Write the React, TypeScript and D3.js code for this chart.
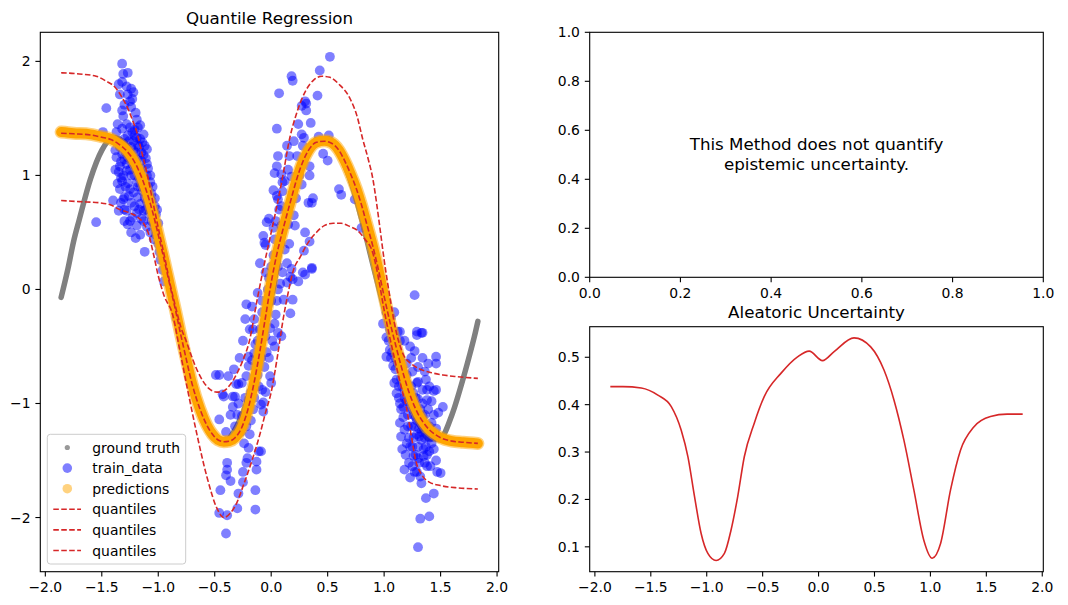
import React from 'react';
import * as d3 from 'd3';

type Pt = [number, number];

// ground truth curve (grey dots in the original, dense enough to read as a line)
const groundTruth: Pt[] = [
  [-1.86, -0.07], [-1.8, 0.18], [-1.75, 0.42], [-1.7, 0.61], [-1.6, 0.97], [-1.5, 1.22],
  [-1.4, 1.33], [-1.3, 1.29], [-1.2, 1.1], [-1.1, 0.8], [-1.0, 0.43], [-0.9, 0.02],
  [-0.8, -0.42], [-0.7, -0.84], [-0.6, -1.15], [-0.5, -1.31], [-0.4, -1.32], [-0.3, -1.19],
  [-0.2, -0.94], [-0.1, -0.55], [0.0, -0.08], [0.1, 0.45], [0.2, 0.88], [0.3, 1.17],
  [0.4, 1.31], [0.5, 1.32], [0.6, 1.2], [0.7, 0.96], [0.8, 0.62], [0.9, 0.22],
  [1.0, -0.17], [1.1, -0.56], [1.2, -0.9], [1.3, -1.16], [1.4, -1.31], [1.5, -1.3],
  [1.6, -1.1], [1.7, -0.78], [1.75, -0.6], [1.8, -0.41], [1.83, -0.28],
];

const trainData: Pt[] = [
  // left cluster
  [-1.32, 1.98], [-1.31, 1.89], [-1.27, 1.9], [-1.35, 1.8], [-1.32, 1.82], [-1.24, 1.76], [-1.27, 1.71],
  [-1.22, 1.73], [-1.34, 1.71], [-1.25, 1.65], [-1.46, 1.59], [-1.24, 1.6], [-1.32, 1.57], [-1.31, 1.52],
  [-1.19, 1.49], [-1.28, 1.45], [-1.16, 1.44], [-1.32, 1.41], [-1.25, 1.42], [-1.37, 1.38], [-1.21, 1.35],
  [-1.13, 1.36], [-1.49, 1.38], [-1.3, 1.32], [-1.16, 1.32], [-1.12, 1.26], [-1.1, 1.23], [-1.38, 1.22],
  [-1.32, 1.19], [-1.22, 1.22], [-1.37, 1.16], [-1.15, 1.13], [-1.1, 1.1], [-1.34, 1.08], [-1.28, 1.04],
  [-1.16, 1.03], [-1.35, 1.03], [-1.31, 1.0], [-1.24, 1.0], [-1.1, 1.0], [-1.32, 0.95], [-1.19, 0.94],
  [-1.07, 0.94], [-1.25, 0.88], [-1.34, 0.88], [-1.12, 0.88], [-1.06, 0.84], [-1.3, 0.81], [-1.18, 0.81],
  [-1.4, 0.78], [-1.31, 0.79], [-1.24, 0.76], [-1.16, 0.75], [-1.07, 0.75], [-1.03, 0.73], [-1.35, 0.69],
  [-1.28, 0.69], [-1.19, 0.67], [-1.13, 0.69], [-1.55, 0.59], [-1.3, 0.6], [-1.15, 0.62], [-1.19, 0.56],
  [-1.24, 0.5], [-1.16, 0.48], [-1.04, 0.64], [-1.02, 0.66], [-1.28, 1.1], [-1.25, 1.15], [-1.2, 1.2],
  [-1.15, 1.06], [-1.12, 0.96], [-1.09, 0.9], [-1.08, 0.82], [-1.05, 0.7], [-1.18, 0.9], [-1.22, 0.85],
  [-1.27, 0.93], [-1.3, 1.14], [-1.26, 1.3], [-1.22, 1.3], [-1.18, 1.27], [-1.15, 1.2], [-1.25, 1.05],
  [-1.2, 1.06], [-1.14, 0.86], [-1.08, 0.66], [-1.04, 0.58], [-1.12, 0.33], [-1.04, 0.44], [-1.0, 0.4],
  [-0.99, 0.33], [-0.98, 0.26], [-1.02, 0.52], [-0.96, 0.17], [-0.95, 0.07], [-1.21, 1.4], [-1.29, 1.25],
  [-1.35, 1.3], [-1.33, 1.12], [-1.1, 0.77], [-1.23, 0.63], [-1.27, 0.57], [-0.84, -0.25],
  [-1.34, 1.25], [-1.31, 1.28], [-1.27, 1.35], [-1.23, 1.38], [-1.19, 1.33], [-1.17, 1.25], [-1.13, 1.18],
  [-1.11, 1.15], [-1.09, 1.06], [-1.07, 1.0], [-1.05, 0.9], [-1.03, 0.8], [-1.01, 0.7], [-1.06, 0.78],
  [-1.09, 0.72], [-1.12, 0.8], [-1.14, 0.92], [-1.17, 0.98], [-1.21, 1.0], [-1.23, 1.1], [-1.27, 1.16],
  [-1.29, 1.2], [-1.33, 0.98], [-1.29, 0.9], [-1.26, 0.82], [-1.21, 0.73], [-1.17, 0.7], [-1.13, 0.6],
  [-1.1, 0.55], [-1.07, 0.5], [-1.33, 0.76], [-1.36, 0.93], [-1.38, 1.05], [-1.36, 1.45], [-1.3, 1.62],
  [-1.28, 1.78], [-1.23, 1.67], [-1.2, 1.55], [-1.18, 1.42], [-1.14, 1.29], [-1.24, 1.25], [-1.19, 1.14],
  [-1.16, 0.9], [-1.11, 0.7], [-1.02, 0.48], [-1.0, 0.58], [-1.06, 0.6], [-1.3, 0.7], [-1.25, 0.6],
  [-1.2, 0.45],
  // middle cluster, lower part
  [-0.46, -1.14], [-0.4, -1.25], [-0.26, -1.11], [-0.22, -1.2], [-0.19, -1.27], [-0.2, -1.39], [-0.21, -1.48],
  [-0.22, -1.52], [-0.25, -1.6], [-0.25, -1.69], [-0.29, -1.79], [-0.39, -1.52], [-0.39, -1.58], [-0.4, -1.63],
  [-0.36, -1.68], [-0.45, -1.76], [-0.46, -1.96], [-0.39, -1.98], [-0.4, -2.14], [-0.3, -1.92], [-0.14, -1.76],
  [-0.14, -1.93], [-0.13, -1.58], [-0.11, -1.42], [-0.09, -1.42], [-0.13, -1.51], [-0.07, -1.07], [-0.16, -1.05],
  // middle cluster, centre
  [-0.46, -0.75], [-0.49, -0.75], [-0.38, -0.76], [-0.22, -0.13], [-0.17, -0.15], [-0.12, -0.03], [-0.23, -0.26],
  [-0.15, -0.26], [-0.1, -0.35], [-0.05, -0.41], [-0.01, -0.34], [0.06, -0.38], [0.09, -0.41], [0.05, -0.1],
  [0.11, -0.09], [0.17, -0.21], [0.14, 0.06], [0.19, -0.09], [0.19, 0.09], [0.24, 0.07], [0.3, 0.13],
  [0.36, 0.18], [0.17, 0.11], [-0.17, -0.62], [-0.15, -0.56], [-0.2, -0.67], [-0.13, -0.7], [-0.22, -0.76],
  [-0.26, -0.82], [-0.31, -0.83], [-0.34, -0.94], [-0.29, -1.0], [-0.34, -1.03], [-0.43, -0.92], [-0.01, -0.76],
  [0.0, -0.82], [-0.09, -1.01], [-0.07, -0.99], [-0.42, -0.94], [-0.32, -0.94], [-0.29, -0.83], [-0.2, -0.97],
  [-0.2, -0.59], [-0.12, -0.45], [-0.08, -0.2], [-0.03, 0.0], [0.0, -0.1], [-0.05, 0.15], [0.02, 0.3],
  [0.06, 0.2], [0.08, 0.05], [-0.09, -0.6], [-0.16, -0.35], [-0.11, -0.85], [-0.04, -0.55], [0.03, -0.5],
  [-0.06, -0.68], [0.04, -0.22], [-0.18, -0.9],
  [-0.3, -1.1], [-0.27, -1.25], [-0.24, -1.35], [-0.18, -1.15], [-0.15, -0.95], [-0.12, -0.75], [-0.08, -0.88],
  [-0.05, -0.9], [-0.02, -0.6], [0.01, -0.45], [0.03, -0.3], [-0.14, -0.48], [-0.19, -0.35], [-0.25, -0.45],
  [-0.28, -0.6], [-0.33, -0.7], [-0.36, -1.1], [-0.32, -1.2], [-0.23, -0.95], [0.06, 0.0], [0.1, 0.15],
  [0.12, 0.35], [0.16, 0.4], [0.2, 0.65], [0.22, 0.8], [0.25, 1.0], [0.12, 0.95], [0.15, 1.05],
  [0.2, 1.3], [0.24, 1.45], [0.0, 0.2], [-0.02, 0.1], [0.04, 0.6], [0.08, 0.4], [-0.08, -0.1],
  // middle cluster, upper part
  [0.52, 2.04], [0.43, 1.92], [0.18, 1.87], [0.19, 1.83], [0.07, 1.72], [0.41, 1.7], [0.27, 1.61],
  [0.31, 1.63], [0.31, 1.57], [0.3, 1.65], [0.35, 1.46], [0.05, 1.41], [0.27, 1.36], [0.29, 1.33],
  [0.14, 1.26], [0.28, 1.26], [0.42, 1.34], [0.51, 1.35], [0.03, 1.02], [0.09, 1.01], [0.16, 1.17],
  [0.23, 1.17], [0.18, 0.99], [0.27, 0.92], [0.34, 1.0], [0.34, 1.08], [0.33, 0.76], [0.36, 0.76],
  [0.37, 0.8], [0.46, 1.19], [0.5, 1.13], [0.6, 0.88], [0.62, 0.83], [-0.04, 0.59], [0.02, 0.54],
  [0.21, 0.56], [0.3, 0.5], [0.34, 0.42], [0.29, 0.34], [0.03, 0.44], [0.09, 0.56], [0.15, 0.57],
  [-0.1, 0.23], [-0.06, 0.41], [-0.05, 0.39], [0.14, 0.23], [0.18, 0.18], [0.36, 0.19], [0.28, 0.15],
  [0.06, 0.79], [0.05, 0.82], [0.02, 0.87], [0.07, 0.7], [0.09, 0.73], [0.1, 0.86], [0.1, 0.94],
  [0.05, 1.08], [0.06, 1.17], [-0.02, 0.62], [-0.07, 0.47], [0.74, 0.79], [0.8, 0.54],
  // right cluster
  [1.27, -0.05], [1.09, -0.2], [1.12, -0.37], [1.29, -0.4], [1.33, -0.38], [1.23, -0.5], [1.34, -0.6],
  [1.46, -0.59], [1.39, -0.65], [1.46, -0.65], [1.27, -0.54], [1.14, -0.45], [1.05, -0.53], [1.02, -0.59],
  [1.08, -0.67], [1.14, -0.61], [1.11, -0.79], [1.2, -0.82], [1.3, -0.81], [1.37, -0.79], [1.34, -0.88],
  [1.44, -0.89], [1.52, -1.03], [1.26, -0.91], [1.3, -0.96], [1.34, -1.0], [1.39, -1.05], [1.34, -1.11],
  [1.32, -1.17], [1.42, -1.17], [1.17, -1.03], [1.14, -1.17], [1.18, -1.23], [1.29, -1.27], [1.15, -1.29],
  [1.2, -1.35], [1.3, -1.38], [1.37, -1.38], [1.18, -1.58], [1.25, -1.55], [1.31, -1.52], [1.26, -1.46],
  [1.38, -1.55], [1.29, -1.6], [1.32, -1.64], [1.23, -1.65], [1.35, -1.46], [1.47, -1.6], [1.5, -1.61],
  [1.44, -1.79], [1.37, -1.83], [1.32, -2.01], [1.4, -1.99], [1.3, -2.26], [1.4, -1.42], [1.31, -1.29],
  [1.14, -1.0], [1.11, -0.91], [1.46, -0.88], [1.38, -0.97], [1.29, -0.82], [1.29, -0.37], [1.34, -0.38],
  [1.14, -0.37], [1.46, -1.22], [1.43, -1.26], [1.05, -0.35], [1.08, -0.45], [1.12, -0.55], [1.16, -0.7],
  [1.2, -0.75], [1.22, -0.95], [1.25, -1.05], [1.28, -1.12], [1.24, -1.2], [1.21, -1.1], [1.18, -0.95],
  [1.16, -0.85], [1.27, -1.2], [1.33, -1.25], [1.36, -1.3], [1.22, -1.3], [1.25, -1.38], [1.19, -1.45],
  [1.28, -1.45], [1.35, -1.2], [1.4, -1.3], [1.1, -0.7], [1.13, -0.85], [1.02, -0.42], [0.99, -0.3],
  [1.06, -0.6],
  [1.02, -0.2], [1.04, -0.45], [1.07, -0.55], [1.1, -0.6], [1.12, -0.65], [1.15, -0.78], [1.18, -0.88],
  [1.2, -0.98], [1.23, -1.02], [1.26, -1.1], [1.29, -1.15], [1.31, -1.22], [1.33, -1.32], [1.35, -1.4],
  [1.38, -1.45], [1.36, -1.52], [1.3, -1.48], [1.26, -1.3], [1.23, -1.38], [1.21, -1.2], [1.17, -1.12],
  [1.15, -1.05], [1.13, -0.95], [1.24, -0.85], [1.28, -0.95], [1.32, -1.05], [1.36, -1.1], [1.4, -1.2],
  [1.42, -1.35], [1.44, -1.4], [1.46, -1.5], [1.48, -1.3], [1.41, -1.55], [1.33, -1.7], [1.27, -1.6],
  [1.22, -1.52], [1.16, -1.4], [1.2, -0.65], [1.25, -0.72], [1.3, -0.68], [1.36, -0.72], [1.4, -0.85],
  [1.42, -0.98], [1.38, -0.88], [1.44, -1.1], [1.48, -1.08], [1.09, -0.82], [1.06, -0.25], [1.18, -0.45],
  [1.24, -0.6],
];

const predictions: Pt[] = [
  [-1.86, 1.38], [-1.75, 1.37], [-1.6, 1.36], [-1.5, 1.34], [-1.42, 1.32], [-1.35, 1.28], [-1.28, 1.22],
  [-1.2, 1.1], [-1.15, 0.99], [-1.1, 0.85], [-1.05, 0.68], [-1.0, 0.48], [-0.95, 0.27], [-0.9, 0.05],
  [-0.85, -0.17], [-0.8, -0.4], [-0.75, -0.62], [-0.7, -0.83], [-0.63, -1.05], [-0.57, -1.19], [-0.52, -1.27],
  [-0.47, -1.32], [-0.42, -1.335], [-0.37, -1.33], [-0.32, -1.3], [-0.27, -1.23], [-0.2, -1.03], [-0.15, -0.81],
  [-0.1, -0.54], [-0.05, -0.24], [0.0, 0.06], [0.05, 0.31], [0.1, 0.51], [0.165, 0.75], [0.23, 0.98],
  [0.28, 1.12], [0.33, 1.22], [0.4, 1.29], [0.47, 1.305], [0.53, 1.29], [0.6, 1.22], [0.65, 1.13],
  [0.7, 1.02], [0.755, 0.88], [0.8, 0.74], [0.85, 0.56], [0.9, 0.38], [0.95, 0.17], [1.0, -0.06],
  [1.05, -0.28], [1.1, -0.48], [1.15, -0.67], [1.2, -0.84], [1.25, -0.98], [1.3, -1.09], [1.35, -1.17],
  [1.4, -1.23], [1.45, -1.27], [1.5, -1.3], [1.6, -1.33], [1.7, -1.34], [1.83, -1.35],
];

const quantileHigh: Pt[] = [
  [-1.86, 1.9], [-1.7, 1.89], [-1.55, 1.87], [-1.45, 1.82], [-1.4, 1.79], [-1.33, 1.7], [-1.28, 1.61],
  [-1.23, 1.49], [-1.19, 1.38], [-1.14, 1.18], [-1.1, 1.02], [-1.04, 0.73], [-0.985, 0.47], [-0.93, 0.22],
  [-0.9, 0.07], [-0.85, -0.14], [-0.8, -0.33], [-0.75, -0.46], [-0.7, -0.6], [-0.65, -0.72], [-0.6, -0.81],
  [-0.55, -0.87], [-0.48, -0.9], [-0.42, -0.89], [-0.36, -0.83], [-0.3, -0.73], [-0.25, -0.62], [-0.19, -0.44],
  [-0.13, -0.12], [-0.07, 0.18], [0.0, 0.5], [0.05, 0.73], [0.1, 0.98], [0.165, 1.33], [0.23, 1.56],
  [0.31, 1.75], [0.38, 1.84], [0.45, 1.87], [0.52, 1.86], [0.6, 1.8], [0.7, 1.67], [0.76, 1.52],
  [0.81, 1.32], [0.86, 1.14], [0.9, 0.97], [0.93, 0.78], [0.96, 0.56], [1.0, 0.26], [1.05, -0.06],
  [1.1, -0.34], [1.17, -0.57], [1.25, -0.66], [1.32, -0.7], [1.42, -0.73], [1.52, -0.75], [1.65, -0.765],
  [1.83, -0.78],
];

const quantileMid: Pt[] = [
  [-1.86, 1.37], [-1.75, 1.365], [-1.6, 1.355], [-1.5, 1.335], [-1.42, 1.315], [-1.35, 1.275], [-1.28, 1.215],
  [-1.2, 1.1], [-1.15, 0.99], [-1.1, 0.85], [-1.05, 0.68], [-1.0, 0.48], [-0.95, 0.27], [-0.9, 0.05],
  [-0.85, -0.17], [-0.8, -0.4], [-0.75, -0.62], [-0.7, -0.83], [-0.63, -1.05], [-0.57, -1.19], [-0.52, -1.27],
  [-0.47, -1.32], [-0.42, -1.335], [-0.37, -1.33], [-0.32, -1.3], [-0.27, -1.23], [-0.2, -1.03], [-0.15, -0.81],
  [-0.1, -0.54], [-0.05, -0.24], [0.0, 0.06], [0.05, 0.31], [0.1, 0.51], [0.165, 0.75], [0.23, 0.98],
  [0.28, 1.12], [0.33, 1.22], [0.4, 1.29], [0.47, 1.3], [0.53, 1.285], [0.6, 1.22], [0.65, 1.13],
  [0.7, 1.02], [0.755, 0.88], [0.8, 0.74], [0.85, 0.56], [0.9, 0.38], [0.95, 0.17], [1.0, -0.06],
  [1.05, -0.28], [1.1, -0.48], [1.15, -0.67], [1.2, -0.84], [1.25, -0.98], [1.3, -1.09], [1.35, -1.17],
  [1.4, -1.23], [1.45, -1.27], [1.5, -1.3], [1.6, -1.33], [1.7, -1.34], [1.83, -1.35],
];

const quantileLow: Pt[] = [
  [-1.86, 0.78], [-1.7, 0.77], [-1.52, 0.76], [-1.42, 0.74], [-1.34, 0.7], [-1.25, 0.67], [-1.19, 0.64],
  [-1.13, 0.58], [-1.09, 0.5], [-1.04, 0.3], [-1.0, 0.12], [-0.95, -0.05], [-0.87, -0.23], [-0.81, -0.53],
  [-0.74, -0.88], [-0.66, -1.26], [-0.57, -1.64], [-0.48, -1.92], [-0.42, -2.0], [-0.36, -1.96], [-0.3, -1.86],
  [-0.24, -1.7], [-0.17, -1.5], [-0.1, -1.27], [-0.05, -1.08], [0.0, -0.9], [0.05, -0.62], [0.106, -0.26],
  [0.15, -0.03], [0.194, 0.16], [0.26, 0.29], [0.32, 0.4], [0.4, 0.5], [0.47, 0.56], [0.55, 0.58],
  [0.62, 0.58], [0.7, 0.55], [0.76, 0.52], [0.83, 0.44], [0.9, 0.32], [0.95, 0.1], [1.0, -0.18],
  [1.05, -0.42], [1.1, -0.64], [1.15, -0.85], [1.2, -1.05], [1.24, -1.28], [1.28, -1.5], [1.33, -1.62],
  [1.4, -1.69], [1.5, -1.72], [1.65, -1.74], [1.83, -1.75],
];

const aleatoric: Pt[] = [
  [-1.862, 0.438], [-1.75, 0.438], [-1.585, 0.435], [-1.437, 0.42], [-1.317, 0.396], [-1.228, 0.346],
  [-1.168, 0.29], [-1.109, 0.206], [-1.05, 0.128], [-0.99, 0.086], [-0.916, 0.071], [-0.842, 0.086],
  [-0.783, 0.135], [-0.723, 0.206], [-0.664, 0.29], [-0.575, 0.361], [-0.486, 0.417], [-0.337, 0.466],
  [-0.188, 0.501], [-0.084, 0.513], [0.035, 0.493], [0.139, 0.512], [0.317, 0.541], [0.466, 0.522],
  [0.585, 0.473], [0.674, 0.41], [0.763, 0.325], [0.852, 0.22], [0.941, 0.114], [1.016, 0.076],
  [1.091, 0.107], [1.18, 0.22], [1.269, 0.304], [1.388, 0.353], [1.537, 0.375], [1.686, 0.38],
  [1.825, 0.38],
];

const xTicks = [-2, -1.5, -1, -0.5, 0, 0.5, 1, 1.5, 2];
const yTicksLeft = [-2, -1, 0, 1, 2];
const unitTicks = [0, 0.2, 0.4, 0.6, 0.8, 1];
const yTicksAleatoric = [0.1, 0.2, 0.3, 0.4, 0.5];
const legendLabels = ['ground truth', 'train_data', 'predictions', 'quantiles', 'quantiles', 'quantiles'];

const FONT = 'DejaVu Sans';
const RED = '#d62728';
const DASH = '5.55 2.4';

// matplotlib-style 5% padding on the data range
function padded(values: number[]): [number, number] {
  const [lo, hi] = d3.extent(values) as [number, number];
  const m = (hi - lo) * 0.05;
  return [lo - m, hi + m];
}

interface Box { x0: number; x1: number; y0: number; y1: number }

function Axes({ box, x, y, xt, yt, xf, yf }: {
  box: Box;
  x: d3.ScaleLinear<number, number>;
  y: d3.ScaleLinear<number, number>;
  xt: number[]; yt: number[];
  xf: (n: number) => string; yf: (n: number) => string;
}) {
  return (
    <g fontFamily={FONT} fontSize={13.9} fill="#000">
      <rect x={box.x0} y={box.y0} width={box.x1 - box.x0} height={box.y1 - box.y0}
        fill="none" stroke="#000" strokeWidth={1.1} />
      {xt.map(t => (
        <g key={'x' + t}>
          <line x1={x(t)} x2={x(t)} y1={box.y1} y2={box.y1 + 4.9} stroke="#000" strokeWidth={1.1} />
          <text x={x(t)} y={box.y1 + 20.2} textAnchor="middle">{xf(t)}</text>
        </g>
      ))}
      {yt.map(t => (
        <g key={'y' + t}>
          <line x1={box.x0 - 4.9} x2={box.x0} y1={y(t)} y2={y(t)} stroke="#000" strokeWidth={1.1} />
          <text x={box.x0 - 9.8} y={y(t) + 5} textAnchor="end">{yf(t)}</text>
        </g>
      ))}
    </g>
  );
}

export default function App() {
  const leftBox: Box = { x0: 40.3, x1: 498.7, y0: 32.3, y1: 571.7 };
  const topBox: Box = { x0: 589.7, x1: 1043.3, y0: 32.3, y1: 277.3 };
  const botBox: Box = { x0: 589.7, x1: 1043.3, y0: 326.7, y1: 571.7 };

  const allLeft = [...groundTruth, ...trainData, ...predictions, ...quantileLow, ...quantileMid, ...quantileHigh];
  const xL = d3.scaleLinear().domain(padded(allLeft.map(d => d[0]))).range([leftBox.x0, leftBox.x1]);
  const yL = d3.scaleLinear().domain(padded(allLeft.map(d => d[1]))).range([leftBox.y1, leftBox.y0]);

  const xR = d3.scaleLinear().domain(padded(aleatoric.map(d => d[0]))).range([botBox.x0, botBox.x1]);
  const yR = d3.scaleLinear().domain(padded(aleatoric.map(d => d[1]))).range([botBox.y1, botBox.y0]);

  const xT = d3.scaleLinear().domain([0, 1]).range([topBox.x0, topBox.x1]);
  const yT = d3.scaleLinear().domain([0, 1]).range([topBox.y1, topBox.y0]);

  const lineL = d3.line<Pt>().x(d => xL(d[0])).y(d => yL(d[1])).curve(d3.curveMonotoneX);
  const lineR = d3.line<Pt>().x(d => xR(d[0])).y(d => yR(d[1])).curve(d3.curveMonotoneX);

  const f1 = d3.format('.1f');
  const fInt = d3.format('d');

  const lgX = 47.3, lgY = 434.3;
  const rowY = (i: number) => 447.5 + i * 20.6;

  return (
    <svg width={1068} height={605} style={{ position: 'absolute', left: 0, top: 0, background: '#fff' }}>
      <rect width={1068} height={605} fill="#fff" />

      {/* left panel: quantile regression */}
      <defs>
        <clipPath id="clipLeft">
          <rect x={leftBox.x0} y={leftBox.y0} width={leftBox.x1 - leftBox.x0} height={leftBox.y1 - leftBox.y0} />
        </clipPath>
      </defs>
      <g clipPath="url(#clipLeft)">
        <path d={lineL(groundTruth) || ''} fill="none" stroke="#808080" strokeWidth={5.5} strokeLinecap="round" />
        {trainData.map((d, i) => (
          <circle key={i} cx={xL(d[0])} cy={yL(d[1])} r={4.9} fill="blue" fillOpacity={0.5} />
        ))}
        <path d={lineL(predictions) || ''} fill="none" stroke="orange" strokeOpacity={0.5} strokeWidth={13} strokeLinecap="round" />
        <path d={lineL(predictions) || ''} fill="none" stroke="orange" strokeWidth={10} strokeLinecap="round" />
        {[quantileLow, quantileMid, quantileHigh].map((q, i) => (
          <path key={i} d={lineL(q) || ''} fill="none" stroke={RED} strokeWidth={1.6} strokeDasharray={DASH} />
        ))}
      </g>
      <Axes box={leftBox} x={xL} y={yL} xt={xTicks} yt={yTicksLeft} xf={f1} yf={fInt} />
      <text x={(leftBox.x0 + leftBox.x1) / 2} y={24} textAnchor="middle" fontFamily={FONT} fontSize={16.7}>
        Quantile Regression
      </text>

      {/* legend */}
      <g fontFamily={FONT} fontSize={13.9}>
        <rect x={lgX} y={lgY} width={138.4} height={129.7} rx={3} fill="#fff" fillOpacity={0.8} stroke="#cccccc" strokeWidth={1} />
        <circle cx={67.3} cy={rowY(0)} r={2.6} fill="#808080" fillOpacity={0.8} />
        <circle cx={67.3} cy={rowY(1)} r={4.8} fill="blue" fillOpacity={0.5} />
        <circle cx={67.3} cy={rowY(2)} r={4.8} fill="orange" fillOpacity={0.5} />
        {[3, 4, 5].map(i => (
          <line key={i} x1={53.3} x2={81} y1={rowY(i)} y2={rowY(i)} stroke={RED} strokeWidth={1.6} strokeDasharray={DASH} />
        ))}
        {legendLabels.map((l, i) => (
          <text key={i} x={92.3} y={rowY(i) + 5}>{l}</text>
        ))}
      </g>

      {/* top right: epistemic placeholder */}
      <Axes box={topBox} x={xT} y={yT} xt={unitTicks} yt={unitTicks} xf={f1} yf={f1} />
      <g fontFamily={FONT} fontSize={16.7} textAnchor="middle">
        <text x={xT(0.5)} y={149.5}>This Method does not quantify</text>
        <text x={xT(0.5)} y={169.8}>epistemic uncertainty.</text>
      </g>

      {/* bottom right: aleatoric uncertainty */}
      <path d={lineR(aleatoric) || ''} fill="none" stroke={RED} strokeWidth={1.6} />
      <Axes box={botBox} x={xR} y={yR} xt={xTicks} yt={yTicksAleatoric} xf={f1} yf={f1} />
      <text x={(botBox.x0 + botBox.x1) / 2} y={318.4} textAnchor="middle" fontFamily={FONT} fontSize={16.7}>
        Aleatoric Uncertainty
      </text>
    </svg>
  );
}
